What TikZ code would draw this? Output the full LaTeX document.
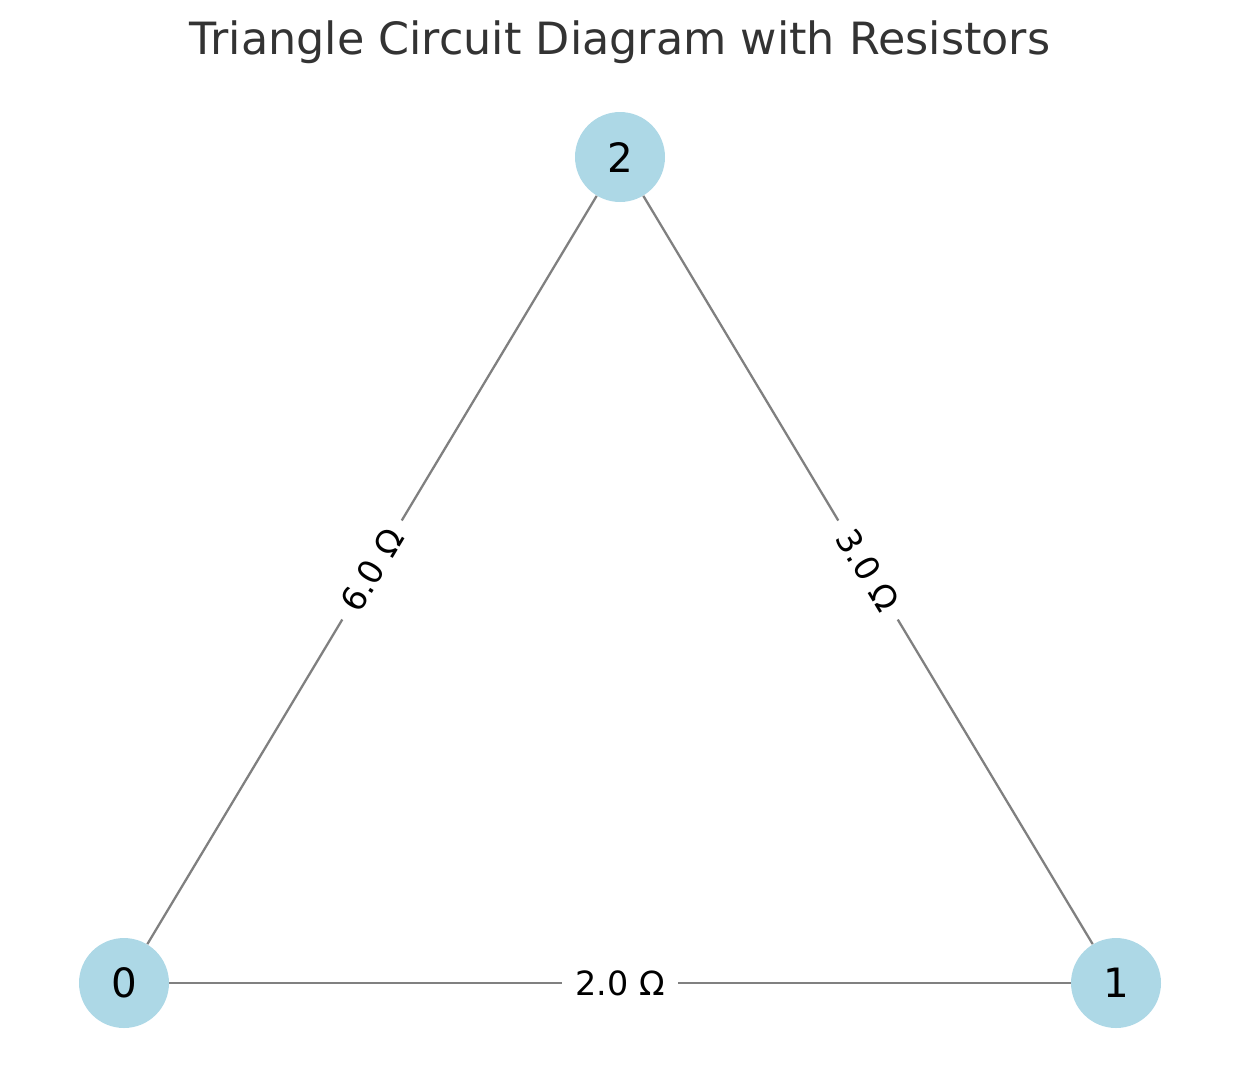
\documentclass[tikz,border=0pt]{standalone}
\usepackage{fontspec}
\setmainfont{DejaVu Sans}
\usetikzlibrary{positioning}

\definecolor{nodeblue}{RGB}{173,216,230}
\definecolor{edgegray}{RGB}{128,128,128}
\definecolor{titlegray}{RGB}{51,51,51}

\begin{document}
\begin{tikzpicture}[
    x=0.02cm, y=-0.02cm,
    vertex/.style={
        circle,
        fill=nodeblue,
        minimum size=1.8cm,
        inner sep=0pt,
        font=\fontsize{23}{27}\selectfont
    },
    wire/.style={
        draw=edgegray,
        line width=1.3pt
    },
    ohm/.style={
        fill=white,
        inner xsep=0.26cm,
        inner ysep=0.1cm,
        midway, sloped,
        font=\fontsize{19}{23}\selectfont
    },
    title/.style={
        text=titlegray,
        font=\fontsize{25.3}{30}\selectfont
    }
]

% Canvas
\useasboundingbox (0,0) rectangle (1239,1090);

% Title
\node[title] (title) at (620,42) {Triangle Circuit Diagram with Resistors};

% Nodes
\node[vertex] (n0) at (124,983) {0};
\node[vertex] (n1) at (1116,983) {1};
\node[vertex] (n2) at (620,157) {2};

% Resistors
\draw[wire] (n0) -- node[ohm] {2.0 Ω} (n1);
\draw[wire] (n0) -- node[ohm] {6.0 Ω} (n2);
\draw[wire] (n2) -- node[ohm] {3.0 Ω} (n1);

\end{tikzpicture}
\end{document}
